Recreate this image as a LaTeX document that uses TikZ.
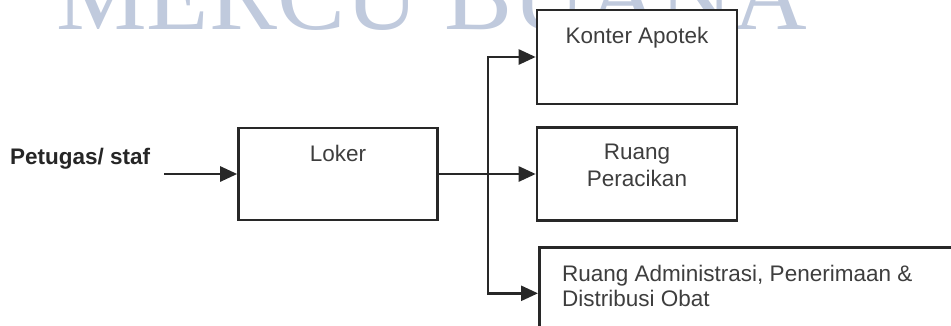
\documentclass[tikz,border=0pt]{standalone}
\usepackage{fontspec}
\setmainfont{Liberation Sans}
\newfontfamily\wmfont{Liberation Serif}
\usetikzlibrary{arrows.meta,positioning}
\definecolor{wmblue}{RGB}{192,202,221}
\definecolor{inkgray}{RGB}{40,40,40}
\definecolor{txtgray}{RGB}{62,62,62}
\tikzset{
  box/.style={draw=inkgray,line width=2.6pt,fill=white,inner sep=0pt},
  txt/.style={text=txtgray,font=\fontsize{22.5}{27}\selectfont,inner sep=0pt},
  conn/.style={draw=inkgray,line width=2.6pt,-{Triangle[length=17pt,width=15pt]}},
}
\begin{document}
\begin{tikzpicture}[x=1pt,y=-1pt,line join=miter]
	\useasboundingbox (0,0) rectangle (951,325);
	\clip (0,0) rectangle (951,325);
	% watermark
	\node[text=wmblue,font=\wmfont\fontsize{102}{102}\selectfont,inner sep=0pt,anchor=base west] (mark) at (56,29) {MERCU BUANA};
	% boxes
	\node[box,minimum width=200pt,minimum height=94pt] (konter) at (637,57) {};
	\node[box,minimum width=199pt,minimum height=92pt] (loker) at (338,174) {};
	\node[box,minimum width=200pt,minimum height=93pt] (perac) at (637,174) {};
	\node[box,minimum width=430pt,minimum height=92pt,anchor=north west] (admin) at (538,246) {};
	% texts
	\node[txt,anchor=base] (konterT) at ([yshift=-35pt]konter.north) {Konter Apotek};
	\node[txt,anchor=base] (lokerT) at ([yshift=-35pt]loker.north) {Loker};
	\node[txt,anchor=north,align=center] (peracT) at ([yshift=-18pt]perac.north) {Ruang\\Peracikan};
	\node[txt,anchor=north west,align=left,font=\fontsize{22.5}{25}\selectfont] (adminT) at ([xshift=24pt,yshift=-19pt]admin.north west) {Ruang Administrasi, Penerimaan \&\\Distribusi Obat};
	\node[txt,text=black!85,font=\bfseries\fontsize{22.5}{27}\selectfont,anchor=base west] (staf) at (10,164) {Petugas/ staf};
	% connectors
	\coordinate (start) at (164,174);
	\coordinate (jct) at (488,174);
	\draw[conn] (start) -- (loker);
	\draw[conn] (loker) -- (perac);
	\draw[conn] (jct) |- (konter);
	\draw[conn] (jct) |- (admin);
\end{tikzpicture}
\end{document}
